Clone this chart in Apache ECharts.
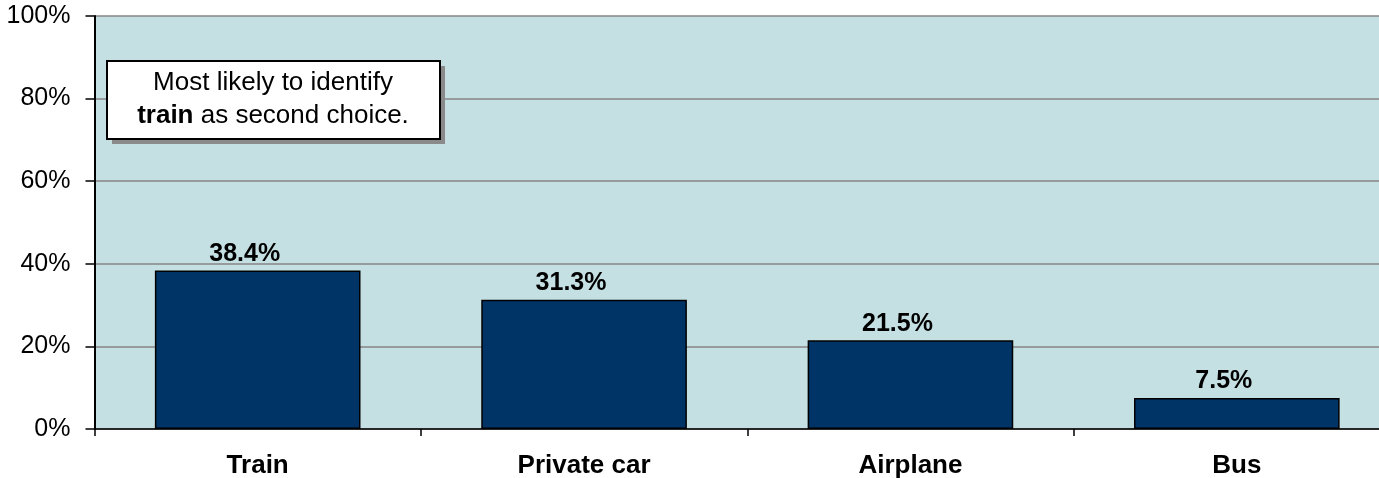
<!DOCTYPE html>
<html>
<head>
<meta charset="utf-8">
<script src="https://cdn.jsdelivr.net/npm/echarts@6/dist/echarts.min.js"></script>
<style>
  html, body { margin: 0; padding: 0; background: #fff; }
  #chart { width: 1379px; height: 478px; }
</style>
</head>
<body>
<div id="chart"></div>
<script>
  let categories = ['Train', 'Private car', 'Airplane', 'Bus'];
  let shares = [38.4, 31.3, 21.5, 7.5];
  let yTicks = [0, 20, 40, 60, 80, 100];

  let font = '"Liberation Sans", Arial, sans-serif';
  let chart = echarts.init(document.getElementById('chart'));

  let option = {
    animation: false,
    backgroundColor: '#fff',
    textStyle: { fontFamily: font },
    grid: {
      left: 94.5,
      top: 16,
      bottom: 49,
      right: -21,
      outerBoundsMode: 'none',
      show: true,
      backgroundColor: '#c5e0e3',
      borderWidth: 0
    },
    xAxis: {
      type: 'category',
      data: categories,
      boundaryGap: true,
      axisLine: { lineStyle: { color: '#000', width: 1.5 } },
      axisTick: { show: true, length: 7, lineStyle: { color: '#000', width: 1.5 } },
      axisLabel: {
        margin: 24,
        color: '#000',
        fontSize: 26,
        fontWeight: 'bold',
        fontFamily: font
      }
    },
    yAxis: {
      type: 'value',
      min: yTicks[0],
      max: yTicks[yTicks.length - 1],
      interval: 20,
      axisLine: { show: true, lineStyle: { color: '#000', width: 2 } },
      axisTick: { show: true, length: 9, lineStyle: { color: '#000', width: 1.5 } },
      axisLabel: {
        margin: 24,
        color: '#000',
        fontSize: 25,
        fontFamily: font,
        formatter: v => v + '%'
      },
      splitLine: { show: true, lineStyle: { color: '#868686', width: 1.5 } }
    },
    series: [
      {
        type: 'bar',
        data: shares,
        barWidth: '63%',
        itemStyle: { color: '#003366', borderColor: '#000', borderWidth: 1.5 },
        label: {
          show: true,
          position: 'top',
          distance: 4,
          offset: [-13, 0],
          color: '#000',
          fontSize: 25,
          fontWeight: 'bold',
          fontFamily: font,
          formatter: p => p.value.toFixed(1) + '%'
        }
      }
    ],
    graphic: [
      {
        type: 'rect',
        x: 112, y: 66,
        shape: { width: 333, height: 78 },
        style: { fill: '#8a8a8a' },
        z: 10
      },
      {
        type: 'rect',
        x: 107, y: 61,
        shape: { width: 333, height: 78 },
        style: { fill: '#fff', stroke: '#000', lineWidth: 2 },
        z: 11
      },
      {
        type: 'text',
        x: 273, y: 99,
        z: 12,
        style: {
          text: 'Most likely to identify\n{b|train} as second choice.',
          align: 'center',
          verticalAlign: 'middle',
          fontSize: 26,
          lineHeight: 33,
          fontFamily: font,
          fill: '#000',
          rich: {
            b: { fontWeight: 'bold', fontSize: 26, lineHeight: 33, fontFamily: font }
          }
        }
      }
    ]
  };
  chart.setOption(option);
</script>
</body>
</html>
